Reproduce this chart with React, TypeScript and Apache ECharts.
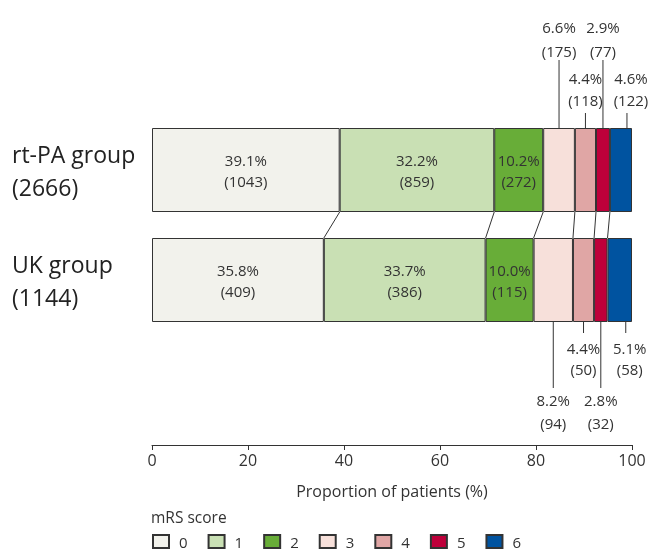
import React, { useEffect, useRef } from 'react';
import * as echarts from 'echarts';

const groups = ['rt-PA group', 'UK group'];
const groupTotals = [2666, 1144];
const mrsLevels = ['0', '1', '2', '3', '4', '5', '6'];
const rtpaPct = [39.1, 32.2, 10.2, 6.6, 4.4, 2.9, 4.6];
const rtpaN = [1043, 859, 272, 175, 118, 77, 122];
const ukPct = [35.8, 33.7, 10.0, 8.2, 4.4, 2.8, 5.1];
const ukN = [409, 386, 115, 94, 50, 32, 58];
const xTicks = [0, 20, 40, 60, 80, 100];
const levelColors = ['#F2F2EC', '#C9E0B4', '#68AD38', '#F7E0DA', '#E0A6A5', '#BE003A', '#0053A0'];

const FONT = '"Open Sans", sans-serif';
const BAR_W = 84;
const HALF = BAR_W / 2;
const INSIDE_MAX = 3;

export default function App() {
  const ref = useRef<HTMLDivElement>(null);
  useEffect(() => {
    const chart = echarts.init(ref.current!, null, { renderer: 'svg' });
    const pcts = [rtpaPct, ukPct];
    const counts = [rtpaN, ukN];
    const cum = pcts.map((arr) => {
      let s = 0;
      return arr.map((v) => (s += v));
    });

    const barSeries = mrsLevels.map((lv, i) => ({
      name: lv,
      type: 'bar',
      stack: 'all',
      barWidth: BAR_W,
      data: pcts.map((p) => p[i]),
      itemStyle: { color: levelColors[i], borderColor: '#333', borderWidth: 1 },
      label: {
        show: i < INSIDE_MAX,
        position: 'inside',
        formatter: (p: any) => `${pcts[p.dataIndex][i].toFixed(1)}%\n(${counts[p.dataIndex][i]})`,
        color: '#333',
        fontFamily: FONT,
        fontSize: 15,
        lineHeight: 21,
      },
      emphasis: { disabled: true },
    }));

    const connectorData = mrsLevels.slice(0, -1).map((_, i) => [cum[0][i], 0, cum[1][i], 1]);
    const connectorSeries = {
      type: 'custom',
      name: 'connectors',
      silent: true,
      data: connectorData,
      encode: { x: [0, 2], y: [1, 3] },
      renderItem: (params: any, api: any) => {
        const a = api.coord([api.value(0), 0]);
        const b = api.coord([api.value(2), 1]);
        return {
          type: 'line',
          shape: { x1: a[0], y1: a[1] + HALF, x2: b[0], y2: b[1] - HALF },
          style: { stroke: '#333', lineWidth: 1 },
        };
      },
    };

    const outsideData: number[][] = [];
    for (let g = 0; g < 2; g++) {
      for (let i = INSIDE_MAX; i < mrsLevels.length; i++) {
        const center = cum[g][i] - pcts[g][i] / 2;
        const isLast = i === mrsLevels.length - 1 ? 1 : 0;
        outsideData.push([center, g, pcts[g][i], counts[g][i], (i - INSIDE_MAX) % 2 === 0 ? 1 : 0, isLast]);
      }
    }
    const txt = (text: string, x: number, y: number) => ({
      type: 'text',
      style: {
        text, x, y,
        align: 'center', verticalAlign: 'middle',
        textAlign: 'center', textVerticalAlign: 'middle',
        fontFamily: FONT, fontSize: 15, fill: '#333',
      },
    });
    const outsideSeries = {
      type: 'custom',
      name: 'outside',
      silent: true,
      data: outsideData,
      encode: { x: 0, y: 1 },
      renderItem: (params: any, api: any) => {
        const c = api.coord([api.value(0), api.value(1)]);
        const g = api.value(1);
        const far = api.value(4) === 1;
        const last = api.value(5) === 1;
        const lx = c[0] + (last ? 6 : 0);
        const tx = c[0] + (last ? 10 : 0);
        const pctText = `${Number(api.value(2)).toFixed(1)}%`;
        const nText = `(${api.value(3)})`;
        let edge, lineEnd, pctY, nY;
        if (g === 0) {
          edge = c[1] - HALF;
          lineEnd = edge - (far ? 68 : 15);
          nY = edge - (far ? 77 : 28);
          pctY = edge - (far ? 101 : 50);
        } else {
          edge = c[1] + HALF;
          lineEnd = edge + (far ? 66 : 11);
          pctY = edge + (far ? 78 : 26);
          nY = edge + (far ? 101 : 47);
        }
        return {
          type: 'group',
          children: [
            { type: 'line', shape: { x1: lx, y1: edge, x2: lx, y2: lineEnd }, style: { stroke: '#333', lineWidth: 1 } },
            txt(pctText, tx, pctY),
            txt(nText, tx, nY),
          ],
        };
      },
    };

    chart.setOption({
      animation: false,
      grid: { left: 152, right: 22, top: 115, bottom: 215 },
      xAxis: {
        type: 'value',
        min: xTicks[0],
        max: xTicks[xTicks.length - 1],
        interval: xTicks[1] - xTicks[0],
        offset: 110,
        axisLine: { show: true, lineStyle: { color: '#333', width: 1 } },
        axisTick: { show: true, length: 5, lineStyle: { color: '#333' } },
        axisLabel: { fontFamily: FONT, fontSize: 16, color: '#333', margin: 7 },
        splitLine: { show: false },
        name: 'Proportion of patients (%)',
        nameLocation: 'middle',
        nameGap: 38,
        nameTextStyle: { fontFamily: FONT, fontSize: 16, color: '#333' },
      },
      yAxis: {
        type: 'category',
        inverse: true,
        data: groups.map((g, i) => `${g}\n(${groupTotals[i]})`),
        axisLine: { show: false },
        axisTick: { show: false },
        axisLabel: { align: 'left', margin: 140, fontFamily: FONT, fontSize: 23, lineHeight: 33, color: '#222' },
      },
      legend: {
        data: mrsLevels,
        left: 147,
        top: 529,
        icon: 'rect',
        itemWidth: 16,
        itemHeight: 13,
        itemGap: 20,
        selectedMode: false,
        textStyle: { fontFamily: FONT, fontSize: 15, lineHeight: 15, color: '#333', padding: [0, 0, 0, 5] },
      },
      graphic: [
        {
          type: 'text',
          left: 151,
          top: 509,
          style: { text: 'mRS score', fontFamily: FONT, fontSize: 15.5, fill: '#333' },
        },
      ],
      series: [...barSeries, connectorSeries, outsideSeries],
    });
    return () => chart.dispose();
  }, []);
  return <div ref={ref} style={{ position: 'fixed', left: 0, top: 0, width: 654, height: 550 }} />;
}
